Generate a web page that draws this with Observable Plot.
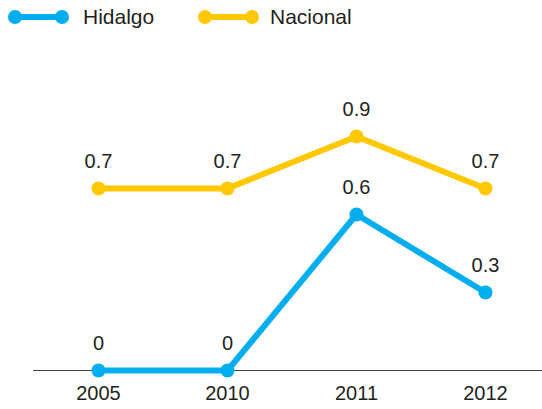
<!DOCTYPE html>
<html><head><meta charset="utf-8">
<script src="https://cdn.jsdelivr.net/npm/d3@7"></script>
<script src="https://cdn.jsdelivr.net/npm/@observablehq/plot@0.6"></script>
<style>
body{margin:0;background:#fff;font-family:"Liberation Sans",Arial,sans-serif;}
#legend{height:36px;position:relative;}
</style></head>
<body>
<div id="legend"></div>
<div id="chart"></div>
<script>
const years = ["2005","2010","2011","2012"];
const hidalgo = [0, 0, 0.6, 0.3];
const nacional = [0.7, 0.7, 0.9, 0.7];
const seriesNames = ["Hidalgo","Nacional"];
const colors = ["#00AEEF","#FFC800"];

const data = [];
years.forEach((y,i)=>{
  data.push({year:y, value:hidalgo[i], serie:"Hidalgo"});
  data.push({year:y, value:nacional[i], serie:"Nacional"});
});

// legend
const lg = d3.select("#legend").append("svg").attr("width",542).attr("height",36);
const items = [{x:15,tx:83},{x:205,tx:270}];
seriesNames.forEach((s,i)=>{
  const g = lg.append("g");
  g.append("line").attr("x1",items[i].x).attr("x2",items[i].x+47).attr("y1",17).attr("y2",17)
   .attr("stroke",colors[i]).attr("stroke-width",6);
  g.append("circle").attr("cx",items[i].x).attr("cy",17).attr("r",7).attr("fill",colors[i]);
  g.append("circle").attr("cx",items[i].x+47).attr("cy",17).attr("r",7).attr("fill",colors[i]);
  g.append("text").attr("x",items[i].tx).attr("y",17).attr("dy","0.35em")
   .attr("font-size",21).attr("fill","#231f20").attr("font-family","Liberation Sans, Arial, sans-serif").text(s);
});

const chart = Plot.plot({
  width:542, height:373,
  marginLeft:33, marginRight:0, marginTop:74, marginBottom:39,
  style:{fontFamily:"Liberation Sans, Arial, sans-serif", fontSize:"20px", color:"#231f20"},
  x:{type:"point", domain:years, range:[97,486], padding:0, label:null},
  y:{domain:[0,1], axis:null},
  color:{domain:seriesNames, range:colors},
  marks:[
    Plot.ruleY([0],{stroke:"#444", strokeWidth:1}),
    Plot.axisX({tickSize:0, tickPadding:15, fontSize:20, fill:"#231f20"}),
    Plot.line(data,{x:"year", y:"value", stroke:"serie", strokeWidth:6}),
    Plot.dot(data,{x:"year", y:"value", fill:"serie", r:7}),
    Plot.text(data,{x:"year", y:"value", text:d=>String(d.value), dy:-27, fill:"#231f20", fontSize:20})
  ]
});
document.getElementById("chart").appendChild(chart);
</script>
</body></html>
